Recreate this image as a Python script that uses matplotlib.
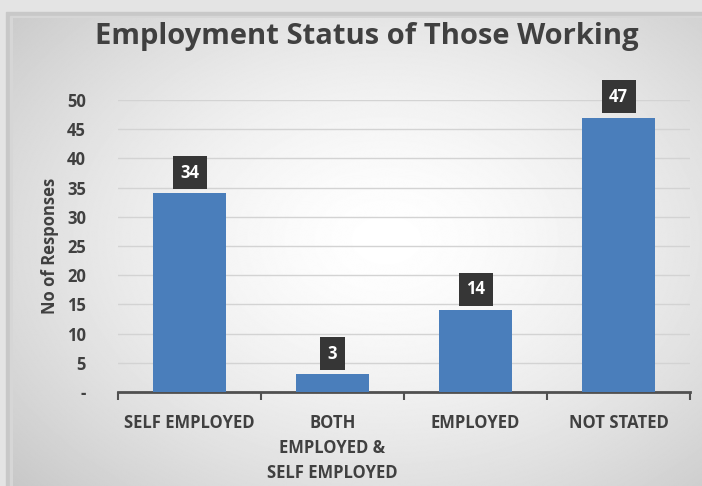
import matplotlib.pyplot as plt
import numpy as np
from matplotlib import font_manager
from matplotlib.patches import Rectangle

categories = ["SELF EMPLOYED", "BOTH\nEMPLOYED &\nSELF EMPLOYED", "EMPLOYED", "NOT STATED"]
responses = [34, 3, 14, 47]
yticks = [0, 5, 10, 15, 20, 25, 30, 35, 40, 45, 50]
ytick_labels = ["-"] + [str(v) for v in yticks[1:]]

names = {f.name for f in font_manager.fontManager.ttflist}
main_font = "Liberation Sans Narrow" if "Liberation Sans Narrow" in names else "Open Sans"
plt.rcParams['font.family'] = [main_font, 'DejaVu Sans']

txt = "#404040"

fig = plt.figure(figsize=(7.02, 4.86), dpi=100)
fig.patch.set_facecolor("#e4e4e4")

# background panel, soft radial gradient + shadowed frame
bg = fig.add_axes([0, 0, 1, 1], zorder=-10)
bg.set_xlim(0, 702)
bg.set_ylim(486, 0)
bg.axis("off")
yy, xx = np.mgrid[0:486, 0:702]
r = np.sqrt(((xx - 380) / 520.0) ** 2 + ((yy - 230) / 380.0) ** 2)
grad = np.clip(1.0 - 0.22 * r ** 1.5, 0.78, 1.0)
bg.add_patch(Rectangle((6, 12), 700, 480, color="#c8c8c8", zorder=0))
bg.add_patch(Rectangle((10, 16), 700, 480, color="#d6d6d6", zorder=0))
bg.imshow(grad, cmap="gray", vmin=0, vmax=1, extent=(13, 702, 486, 19),
          zorder=1, aspect="auto")

ax = fig.add_axes([118 / 702, 94 / 486, 572 / 702, 292 / 486])
ax.patch.set_alpha(0)
x = np.arange(len(categories))
ax.bar(x, responses, width=0.51, color="#4a7ebb", zorder=3)
ax.set_xlim(-0.5, len(categories) - 0.5)
ax.set_ylim(0, 50)

ax.set_yticks(yticks)
ax.set_yticklabels(ytick_labels, fontsize=12, fontweight="bold", color=txt)
ax.tick_params(axis="y", length=0, pad=23)
ax.yaxis.grid(True, color="#d3d3d3", linewidth=1, zorder=0)

ax.set_xticks(x)
ax.set_xticklabels(categories, fontsize=12, fontweight="bold", color=txt,
                   linespacing=1.5, va="top")
ax.tick_params(axis="x", length=0, pad=16)
ax.set_xticks(np.arange(-0.5, len(categories)), minor=True)
ax.tick_params(axis="x", which="minor", length=6, width=1.5, color="#505050")

for s in ["top", "right", "left"]:
    ax.spines[s].set_visible(False)
ax.spines["bottom"].set_color("#505050")
ax.spines["bottom"].set_linewidth(2)

ax.set_ylabel("No of Responses", fontsize=12, fontweight="bold", color=txt, labelpad=6)

for xi, v in zip(x, responses):
    ax.annotate(str(v), (xi, v), xytext=(0, 15), textcoords="offset points",
                ha="center", va="center", fontsize=12, fontweight="bold", color="white",
                bbox=dict(boxstyle="square,pad=0.45", fc="#363636", ec="none"),
                zorder=5, annotation_clip=False)

fig.text(0.522, 0.924, "Employment Status of Those Working", ha="center", va="center",
         fontsize=21, fontweight="bold", color=txt)

fig.savefig("out.png", dpi=100, facecolor=fig.get_facecolor())
